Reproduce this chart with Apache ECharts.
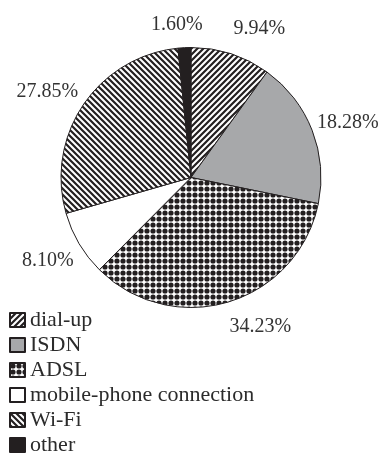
<!DOCTYPE html>
<html>
<head>
<meta charset="utf-8">
<script src="https://cdn.jsdelivr.net/npm/echarts@6/dist/echarts.min.js"></script>
<style>
  html, body { margin: 0; padding: 0; background: #fff; }
  #chart { width: 382px; height: 459px; }
</style>
</head>
<body>
<div id="chart"></div>
<script>
// Internet connection types, share of users (%)
const categories = ['dial-up', 'ISDN', 'ADSL', 'mobile-phone connection', 'Wi-Fi', 'other'];
const shares = [9.94, 18.28, 34.23, 8.10, 27.85, 1.60];

const INK = '#231f20';

// Small repeating tiles used as slice fills
function tile(size, draw) {
  const c = document.createElement('canvas');
  c.width = size; c.height = size;
  const g = c.getContext('2d');
  g.fillStyle = '#fff';
  g.fillRect(0, 0, size, size);
  draw(g, size);
  return { image: c, repeat: 'repeat' };
}
function stripes(forward) {
  return tile(6, (g, s) => {
    g.strokeStyle = INK;
    g.lineWidth = 2.2;
    g.beginPath();
    for (let k = -1; k <= 1; k++) {
      if (forward) { // "/" stripes
        g.moveTo(k * s - 1, s + 1); g.lineTo(k * s + s + 1, -1);
      } else {       // "\" stripes
        g.moveTo(k * s - 1, -1); g.lineTo(k * s + s + 1, s + 1);
      }
    }
    g.stroke();
  });
}
const dots = tile(6, (g, s) => {
  g.fillStyle = INK;
  g.beginPath();
  g.arc(s / 2, s / 2, 2.6, 0, Math.PI * 2);
  g.fill();
});

const fills = [stripes(true), '#a7a8aa', dots, '#ffffff', stripes(false), INK];

// Small per-label nudges so neighbouring labels sit clear of each other
const labelNudge = {
  'dial-up': [18, 7], 'ISDN': [4, 5], 'ADSL': [22, -8],
  'mobile-phone connection': [-2, 0], 'Wi-Fi': [-8, 6], 'other': [-6, 11]
};

const chart = echarts.init(document.getElementById('chart'), null, { renderer: 'canvas' });
chart.setOption({
  animation: false,
  backgroundColor: '#fff',
  legend: {
    orient: 'vertical',
    left: 9,
    top: 309,
    padding: 0,
    itemWidth: 15,
    itemHeight: 14,
    itemGap: 3,
    icon: 'rect',
    selectedMode: false,
    data: categories,
    textStyle: {
      fontFamily: 'Liberation Serif', fontSize: 22,
      color: '#2b2b2b'
    }
  },
  series: [{
    type: 'pie',
    center: [191, 177.5],
    radius: 130,
    startAngle: 90,
    clockwise: true,
    avoidLabelOverlap: false,
    data: categories.map((name, i) => ({
      name, value: shares[i],
      itemStyle: { color: fills[i] }
    })),
    itemStyle: { borderColor: INK, borderWidth: 1 },
    emphasis: { disabled: true },
    label: {
      show: true,
      position: 'outside',
      formatter: p => p.value.toFixed(2) + '%',
      fontFamily: 'Liberation Serif',
      fontSize: 20,
      color: '#333',
      distanceToLabelLine: 0
    },
    labelLine: { show: false, length: 34, length2: 0 },
    labelLayout: p => {
      const name = categories[p.dataIndex];
      const n = labelNudge[name] || [0, 0];
      return { align: 'center', verticalAlign: 'middle', dx: n[0], dy: n[1] };
    }
  }]
});
</script>
</body>
</html>
